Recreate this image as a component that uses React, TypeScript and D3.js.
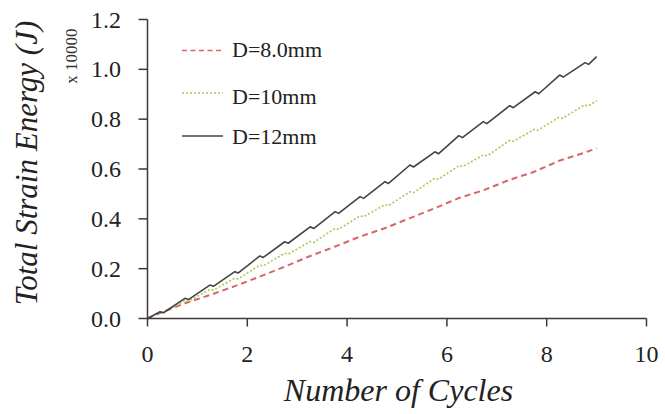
import React from "react";
import * as d3 from "d3";

const xTicks = [0, 2, 4, 6, 8, 10];
const yTicks = [0, 0.2, 0.4, 0.6, 0.8, 1.0, 1.2];

const d8: [number, number][] = [
  [0, 0], [0.25, 0.022], [0.75, 0.061], [1.25, 0.094], [1.75, 0.13], [2.25, 0.168],
  [2.75, 0.208], [3.25, 0.25], [3.75, 0.288], [4.25, 0.328], [4.75, 0.362],
  [5.25, 0.402], [5.75, 0.442], [6.25, 0.484], [6.75, 0.516], [7.25, 0.556],
  [7.75, 0.589], [8.25, 0.633], [8.75, 0.665], [9.0, 0.683],
];

const d10: [number, number][] = [
  [0, 0], [0.25, 0.026], [0.32, 0.024], [0.75, 0.072], [0.82, 0.069], [1.25, 0.117], [1.32, 0.114],
  [1.75, 0.162], [1.82, 0.159], [2.25, 0.214], [2.32, 0.211], [2.75, 0.262], [2.82, 0.258],
  [3.26, 0.309], [3.33, 0.305], [3.76, 0.362], [3.83, 0.358], [4.26, 0.412], [4.33, 0.408],
  [4.76, 0.457], [4.83, 0.453], [5.26, 0.509], [5.33, 0.505], [5.76, 0.563], [5.83, 0.559],
  [6.25, 0.614], [6.32, 0.61], [6.74, 0.657], [6.81, 0.653], [7.26, 0.715], [7.33, 0.711],
  [7.75, 0.759], [7.82, 0.755], [8.24, 0.807], [8.31, 0.803], [8.76, 0.857], [8.83, 0.853],
  [9.0, 0.874],
];

const d12: [number, number][] = [
  [0, 0], [0.25, 0.027], [0.32, 0.023], [0.75, 0.081], [0.82, 0.076], [1.25, 0.134], [1.32, 0.129],
  [1.75, 0.188], [1.82, 0.183], [2.25, 0.251], [2.32, 0.245], [2.75, 0.308], [2.82, 0.302],
  [3.26, 0.368], [3.33, 0.361], [3.76, 0.429], [3.83, 0.422], [4.26, 0.489], [4.33, 0.482],
  [4.76, 0.549], [4.83, 0.542], [5.26, 0.616], [5.33, 0.608], [5.76, 0.669], [5.83, 0.661],
  [6.24, 0.734], [6.31, 0.726], [6.73, 0.79], [6.8, 0.782], [7.26, 0.854], [7.33, 0.846],
  [7.77, 0.91], [7.84, 0.902], [8.26, 0.977], [8.33, 0.969], [8.77, 1.027], [8.84, 1.02],
  [9.0, 1.051],
];

const seriesNames = ["D=8.0mm", "D=10mm", "D=12mm"];
const seriesData = [d8, d10, d12];
const seriesColors = ["#d9646a", "#a9c85a", "#444444"];
const seriesDash = ["6,4", "2,2", "none"];
const seriesWidth = [2, 1.6, 1.6];

const W = 665;
const H = 414;
const serif = "'Liberation Serif', 'Times New Roman', serif";
const axisColor = "#3a3a3a";

export default function App() {
  const x = d3.scaleLinear().domain([0, 10]).range([147.5, 646.5]);
  const y = d3.scaleLinear().domain([0, 1.2]).range([318.5, 19.5]);
  const line = d3
    .line<[number, number]>()
    .x((d) => x(d[0]))
    .y((d) => y(d[1]));

  const legendY = [50.5, 93, 136];
  const legendTextY = [57, 103.5, 143.5];

  return (
    <svg
      width={W}
      height={H}
      style={{ position: "absolute", left: 0, top: 0, background: "#fff" }}
    >
      {/* series */}
      {seriesData.map((s, i) => (
        <path
          key={i}
          d={line(s) || ""}
          fill="none"
          stroke={seriesColors[i]}
          strokeWidth={seriesWidth[i]}
          strokeDasharray={seriesDash[i]}
          strokeLinejoin="round"
        />
      ))}

      {/* axes */}
      <line x1={x(0)} x2={x(0)} y1={y(0)} y2={y(1.2)} stroke={axisColor} strokeWidth={1.5} />
      <line x1={x(0)} x2={x(10)} y1={y(0)} y2={y(0)} stroke={axisColor} strokeWidth={1.5} />
      {yTicks.map((t) => (
        <g key={"y" + t}>
          <line x1={x(0) - 9} x2={x(0)} y1={y(t)} y2={y(t)} stroke={axisColor} strokeWidth={1.5} />
          <text
            x={121}
            y={y(t) + 8}
            textAnchor="end"
            fontFamily={serif}
            fontSize={24}
            fill="#222"
          >
            {d3.format(".1f")(t)}
          </text>
        </g>
      ))}
      {xTicks.map((t) => (
        <g key={"x" + t}>
          <line x1={x(t)} x2={x(t)} y1={y(0)} y2={y(0) + 8} stroke={axisColor} strokeWidth={1.5} />
          <text
            x={x(t)}
            y={361.5}
            textAnchor="middle"
            fontFamily={serif}
            fontSize={24}
            fill="#222"
          >
            {t}
          </text>
        </g>
      ))}

      {/* axis titles */}
      <text
        x={398.5}
        y={401}
        textAnchor="middle"
        fontFamily={serif}
        fontStyle="italic"
        fontSize={32}
        fill="#222"
      >
        Number of Cycles
      </text>
      <text
        transform={`translate(37,163) rotate(-90)`}
        textAnchor="middle"
        fontFamily={serif}
        fontStyle="italic"
        fontSize={31}
        fill="#222"
      >
        Total Strain Energy (J)
      </text>
      <text
        transform={`translate(77,56) rotate(-90)`}
        textAnchor="middle"
        fontFamily={serif}
        fontSize={17}
        fill="#333"
      >
        x 10000
      </text>

      {/* legend */}
      {seriesNames.map((n, i) => (
        <g key={n}>
          <line
            x1={182}
            x2={223}
            y1={legendY[i]}
            y2={legendY[i]}
            stroke={seriesColors[i]}
            strokeWidth={i === 2 ? 1.6 : 1.4}
            strokeDasharray={i === 0 ? "5,3.5" : seriesDash[i]}
          />
          <text x={232} y={legendTextY[i]} fontFamily={serif} fontSize={22} fill="#222">
            {n}
          </text>
        </g>
      ))}
    </svg>
  );
}
